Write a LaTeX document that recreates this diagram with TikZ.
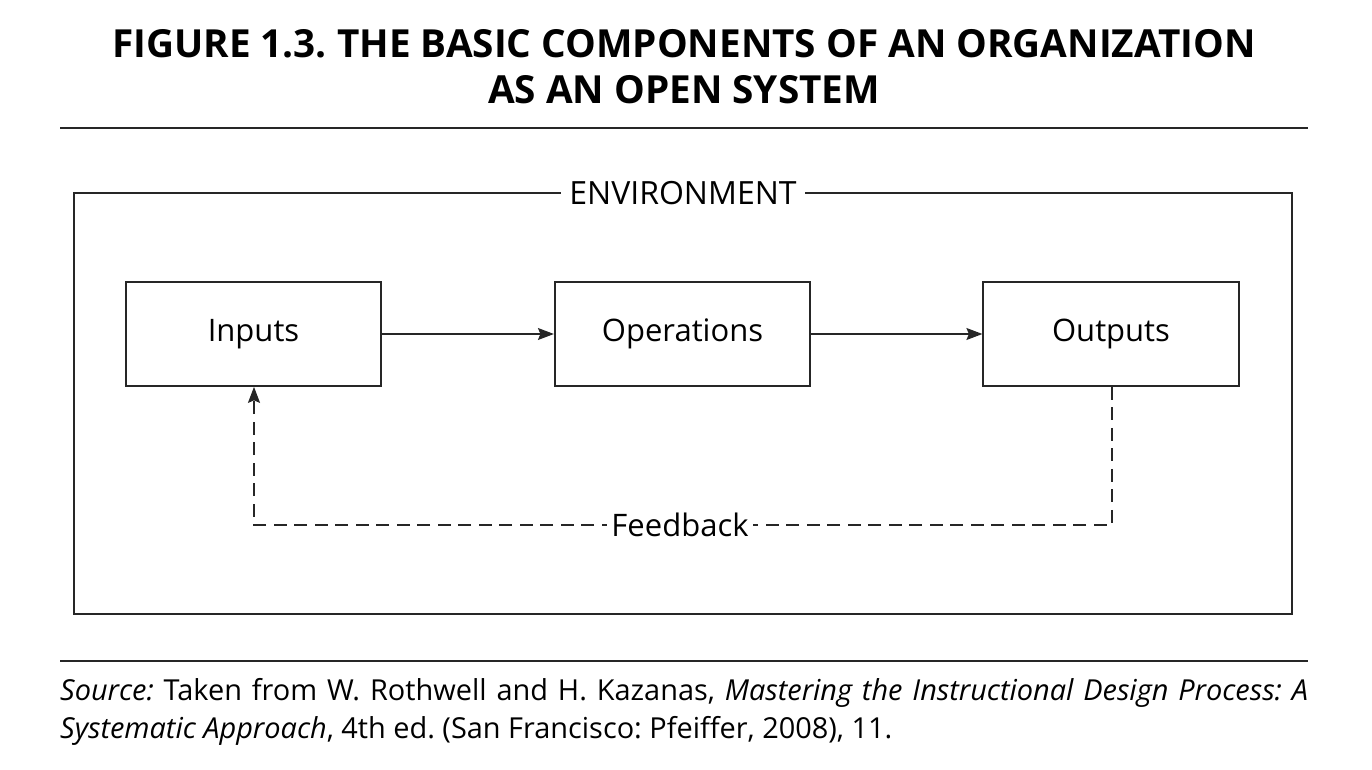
\documentclass[tikz,border=0pt]{standalone}
\usepackage{fontspec}
\setmainfont{Open Sans}
\usetikzlibrary{arrows.meta}
\frenchspacing
\begin{document}
\begin{tikzpicture}[x=1pt,y=-1pt,
  box/.style={draw=black!85,line width=1.7pt,minimum width=255.5pt,minimum height=104pt,inner sep=0pt,
    font=\fontsize{31}{36}\selectfont},
  tip/.style={-{Stealth[length=16pt,width=12pt,inset=2.5pt]}},
  flow/.style={draw=black!85,line width=1.3pt,tip},
  fb/.style={draw=black!85,line width=1.6pt,dash pattern=on 13pt off 7.5pt,tip},
  rulefig/.style={draw=black!85,line width=1.6pt}]
\useasboundingbox (0,0) rectangle (1372,770);
% title
\node (t1) at (684,44) {\fontsize{38.7}{45}\selectfont\bfseries FIGURE 1.3. THE BASIC COMPONENTS OF AN ORGANIZATION};
\node (t2) at (684,90) {\fontsize{38.7}{45}\selectfont\bfseries AS AN OPEN SYSTEM};
\coordinate (r1a) at (60,128); \coordinate (r1b) at (1308,128);
\draw[rulefig] (r1a) -- (r1b);
% environment frame
\draw[rulefig] (74,193) rectangle (1292,614);
\node[fill=white,inner xsep=8pt,font=\fontsize{32}{37}\selectfont] (env) at (683,193) {ENVIRONMENT};
% components
\node[box] (in) at (253.5,334) {Inputs};
\node[box] (op) at (682.5,334) {Operations};
\node[box] (out) at (1111,334) {Outputs};
\draw[flow] (in) -- (op);
\draw[flow] (op) -- (out);
% feedback loop
\coordinate (c1) at (1112,525);
\coordinate (c2) at (254,525);
\draw[fb] (out.south -| c1) -- (c1) -- (c2) -- (in.south -| c2);
\node[fill=white,inner xsep=4pt,font=\fontsize{31}{36}\selectfont] (fbl) at (680,525) {Feedback};
% source note
\coordinate (r2a) at (60,661); \coordinate (r2b) at (1308,661);
\draw[rulefig] (r2a) -- (r2b);
\node[anchor=base west,inner sep=0pt,font=\fontsize{28.9}{34}\selectfont] (s1) at (60,700)
  {\makebox[1248pt][s]{\textit{Source:} Taken from W. Rothwell and H. Kazanas, \textit{Mastering the Instructional Design Process: A}}};
\node[anchor=base west,inner sep=0pt,font=\fontsize{28.9}{34}\selectfont] (s2) at (60,738)
  {\textit{Systematic Approach}, 4th ed. (San Francisco: Pfeiffer, 2008), 11.};
\end{tikzpicture}
\end{document}
